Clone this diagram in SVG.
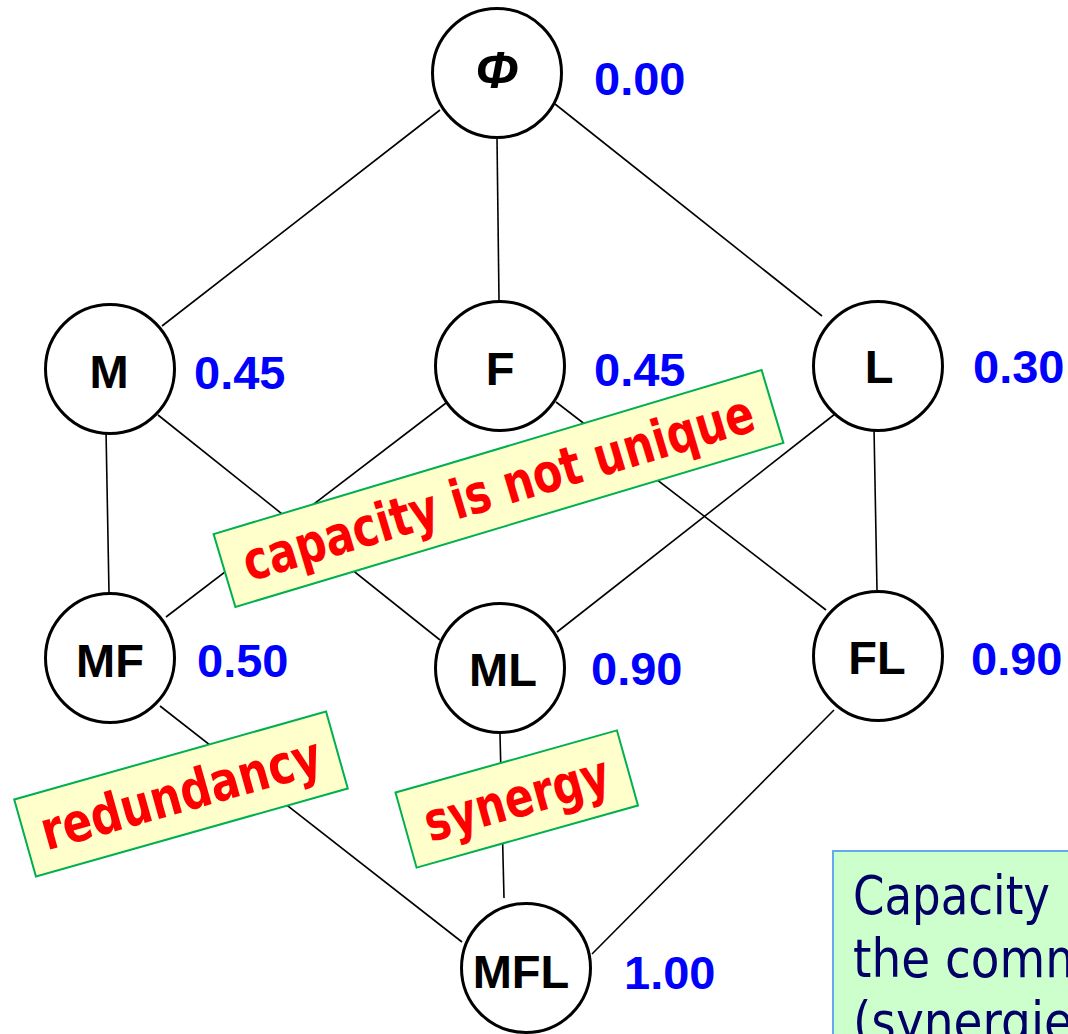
<svg xmlns="http://www.w3.org/2000/svg" width="1068" height="1034" viewBox="0 0 1068 1034">
  <style>
    .edge { stroke: #000; stroke-width: 1.6; fill: none; }
    .node circle { fill: #fff; stroke: #000; stroke-width: 3; }
    .lbl { font-family: "Liberation Sans", Arial, sans-serif; font-weight: bold; font-size: 47px; fill: #000; text-anchor: middle; }
    .phi { font-family: "Liberation Sans", Arial, sans-serif; font-weight: bold; font-style: italic; font-size: 52px; fill: #000; text-anchor: middle; }
    .val { font-family: "Liberation Sans", Arial, sans-serif; font-weight: bold; font-size: 47px; fill: #0000FF; }
    .tag rect { fill: #FFFFCC; stroke: #00B050; stroke-width: 2; }
    .tag text { font-family: "DejaVu Sans", Verdana, sans-serif; font-weight: bold; font-size: 54px; fill: #FF0000; text-anchor: middle; }
    .note rect { fill: #CCFFCC; stroke: #66A8F0; stroke-width: 2; }
    .note text { font-family: "DejaVu Sans", Verdana, sans-serif; font-size: 53px; fill: #000066; }
  </style>

  <rect width="1068" height="1034" fill="#fff"/>

  <!-- lattice edges -->
  <g id="connectors">
    <line class="edge" x1="440" y1="110" x2="162" y2="326"/>
    <line class="edge" x1="497" y1="138" x2="499" y2="300"/>
    <line class="edge" x1="555" y1="104" x2="822" y2="316"/>
    <line class="edge" x1="106" y1="430" x2="109" y2="593"/>
    <line class="edge" x1="158" y1="415" x2="440" y2="640"/>
    <line class="edge" x1="446" y1="403" x2="166" y2="617"/>
    <line class="edge" x1="556" y1="402" x2="826" y2="610"/>
    <line class="edge" x1="835" y1="414" x2="557" y2="632"/>
    <line class="edge" x1="874" y1="428" x2="877" y2="590"/>
    <line class="edge" x1="160" y1="706" x2="462" y2="942"/>
    <line class="edge" x1="500" y1="734" x2="504" y2="898"/>
    <line class="edge" x1="834" y1="710" x2="592" y2="954"/>
  </g>

  <!-- nodes -->
  <g id="node-phi" class="node">
    <circle cx="497" cy="73" r="64.5"/>
    <text class="phi" x="497" y="88">Φ</text>
    <text class="val" x="594" y="95">0.00</text>
  </g>
  <g id="node-M" class="node">
    <circle cx="110" cy="369" r="64.5"/>
    <text class="lbl" x="109" y="388">M</text>
    <text class="val" x="194" y="389">0.45</text>
  </g>
  <g id="node-F" class="node">
    <circle cx="500" cy="366" r="64.5"/>
    <text class="lbl" x="500" y="385">F</text>
    <text class="val" x="594" y="386">0.45</text>
  </g>
  <g id="node-L" class="node">
    <circle cx="878" cy="366" r="64.5"/>
    <text class="lbl" x="879" y="383">L</text>
    <text class="val" x="973" y="383">0.30</text>
  </g>
  <g id="node-MF" class="node">
    <circle cx="110" cy="658" r="64.5"/>
    <text class="lbl" x="110" y="677">MF</text>
    <text class="val" x="197" y="677">0.50</text>
  </g>
  <g id="node-ML" class="node">
    <circle cx="500" cy="668" r="64.5"/>
    <text class="lbl" x="503" y="686">ML</text>
    <text class="val" x="591" y="685">0.90</text>
  </g>
  <g id="node-FL" class="node">
    <circle cx="878" cy="656" r="64.5"/>
    <text class="lbl" x="877" y="674">FL</text>
    <text class="val" x="971" y="675">0.90</text>
  </g>
  <g id="node-MFL" class="node">
    <circle cx="526" cy="968" r="64.5"/>
    <text class="lbl" x="521" y="988">MFL</text>
    <text class="val" x="624" y="989">1.00</text>
  </g>

  <!-- annotation tags -->
  <g id="tag-unique" class="tag" transform="translate(498.5,488.5) rotate(-16.66)">
    <rect x="-286" y="-38" width="572" height="76"/>
    <text x="0" y="18" textLength="531" lengthAdjust="spacingAndGlyphs">capacity is not unique</text>
  </g>
  <g id="tag-redundancy" class="tag" transform="translate(181,794) rotate(-15.75)">
    <rect x="-162" y="-40" width="324" height="80"/>
    <text x="0" y="18" textLength="289" lengthAdjust="spacingAndGlyphs">redundancy</text>
  </g>
  <g id="tag-synergy" class="tag" transform="translate(516.75,799) rotate(-15.67)">
    <rect x="-115" y="-39" width="230" height="78"/>
    <text x="0" y="18" textLength="190" lengthAdjust="spacingAndGlyphs">synergy</text>
  </g>

  <!-- explanatory note -->
  <g id="note" class="note">
    <rect x="833" y="851" width="260" height="220"/>
    <text x="853" y="914" textLength="197" lengthAdjust="spacingAndGlyphs">Capacity</text>
    <text x="853" y="977" textLength="238" lengthAdjust="spacingAndGlyphs">the comm</text>
    <text x="853" y="1040" textLength="220" lengthAdjust="spacingAndGlyphs">(synergie</text>
  </g>
</svg>
